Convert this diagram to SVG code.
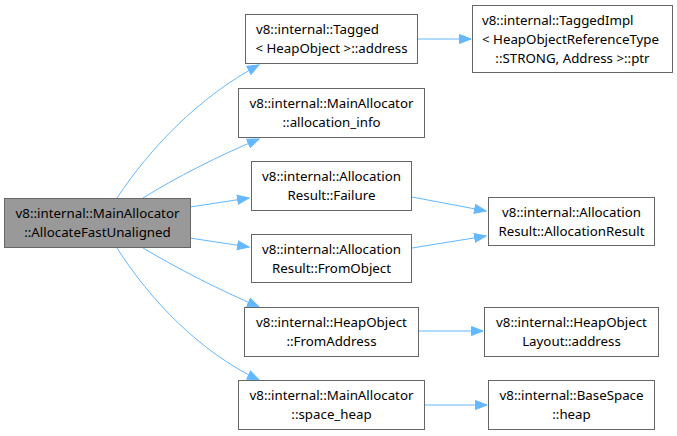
<svg xmlns="http://www.w3.org/2000/svg" width="677" height="436" viewBox="0 0 677 436">
<style>
.n rect{fill:#ffffff;stroke:#666666;stroke-width:1}
.n.main rect{fill:#999999}
.n text{font-family:"Noto Sans","DejaVu Sans",sans-serif;font-size:13.3px;fill:#000000;text-anchor:middle}
.n text.l{text-anchor:start}
.e path{fill:none;stroke:#63b8ff;stroke-width:1;marker-end:url(#ah)}
</style>
<defs>
<marker id="ah" markerUnits="userSpaceOnUse" markerWidth="14" markerHeight="12" refX="12" refY="6" orient="auto">
<path d="M0.5,1.5 L12,6 L0.5,10.5 Z" fill="#63b8ff" stroke="#63b8ff"/>
</marker>
</defs>
<rect width="677" height="436" fill="#ffffff"/>
<g id="edges" class="e">
<path d="M117,198 C150,148 200,96 259,65"/>
<path d="M143,198 C175,178 220,155 259,139"/>
<path d="M190,207 L249,198"/>
<path d="M190,238 L249,247"/>
<path d="M143,248 C180,270 220,290 259,307"/>
<path d="M117,248 C150,300 200,352 259,380"/>
<path d="M417,39 L471,39"/>
<path d="M412,197 L486,211"/>
<path d="M412,248 L486,236"/>
<path d="M418,331 L483,331"/>
<path d="M424,405 L487,405"/>
</g>
<g id="n_main" class="n main">
<rect x="4.5" y="198.5" width="186" height="49"/>
<text x="97.5" y="218">v8::internal::MainAllocator</text>
<text x="97.5" y="237">::AllocateFastUnaligned</text>
</g>
<g id="n_tagged" class="n">
<rect x="245.5" y="14.5" width="172" height="49"/>
<text class="l" x="256" y="34">v8::internal::Tagged</text>
<text x="331.5" y="53">&lt; HeapObject &gt;::address</text>
</g>
<g id="n_taggedimpl" class="n">
<rect x="472.5" y="5.5" width="200" height="67"/>
<text class="l" x="482" y="25">v8::internal::TaggedImpl</text>
<text class="l" x="482" y="44">&lt; HeapObjectReferenceType</text>
<text x="572.5" y="63">::STRONG, Address &gt;::ptr</text>
</g>
<g id="n_allocinfo" class="n">
<rect x="238.5" y="88.5" width="186" height="49"/>
<text x="331.5" y="108">v8::internal::MainAllocator</text>
<text x="331.5" y="127">::allocation_info</text>
</g>
<g id="n_failure" class="n">
<rect x="251.5" y="161.5" width="160" height="49"/>
<text x="331.5" y="181">v8::internal::Allocation</text>
<text x="331.5" y="200">Result::Failure</text>
</g>
<g id="n_fromobject" class="n">
<rect x="251.5" y="234.5" width="160" height="48"/>
<text x="331.5" y="254">v8::internal::Allocation</text>
<text x="331.5" y="273">Result::FromObject</text>
</g>
<g id="n_allocresult" class="n">
<rect x="488.5" y="197.5" width="166" height="48"/>
<text x="571.5" y="217">v8::internal::Allocation</text>
<text x="571.5" y="236">Result::AllocationResult</text>
</g>
<g id="n_fromaddress" class="n">
<rect x="244.5" y="307.5" width="174" height="49"/>
<text x="331.5" y="327">v8::internal::HeapObject</text>
<text x="331.5" y="346">::FromAddress</text>
</g>
<g id="n_spaceheap" class="n">
<rect x="238.5" y="380.5" width="186" height="49"/>
<text x="331.5" y="400">v8::internal::MainAllocator</text>
<text x="331.5" y="419">::space_heap</text>
</g>
<g id="n_layout" class="n">
<rect x="484.5" y="307.5" width="174" height="49"/>
<text x="571.5" y="327">v8::internal::HeapObject</text>
<text x="571.5" y="346">Layout::address</text>
</g>
<g id="n_basespace" class="n">
<rect x="488.5" y="380.5" width="166" height="49"/>
<text x="571.5" y="400">v8::internal::BaseSpace</text>
<text x="571.5" y="419">::heap</text>
</g>
</svg>
